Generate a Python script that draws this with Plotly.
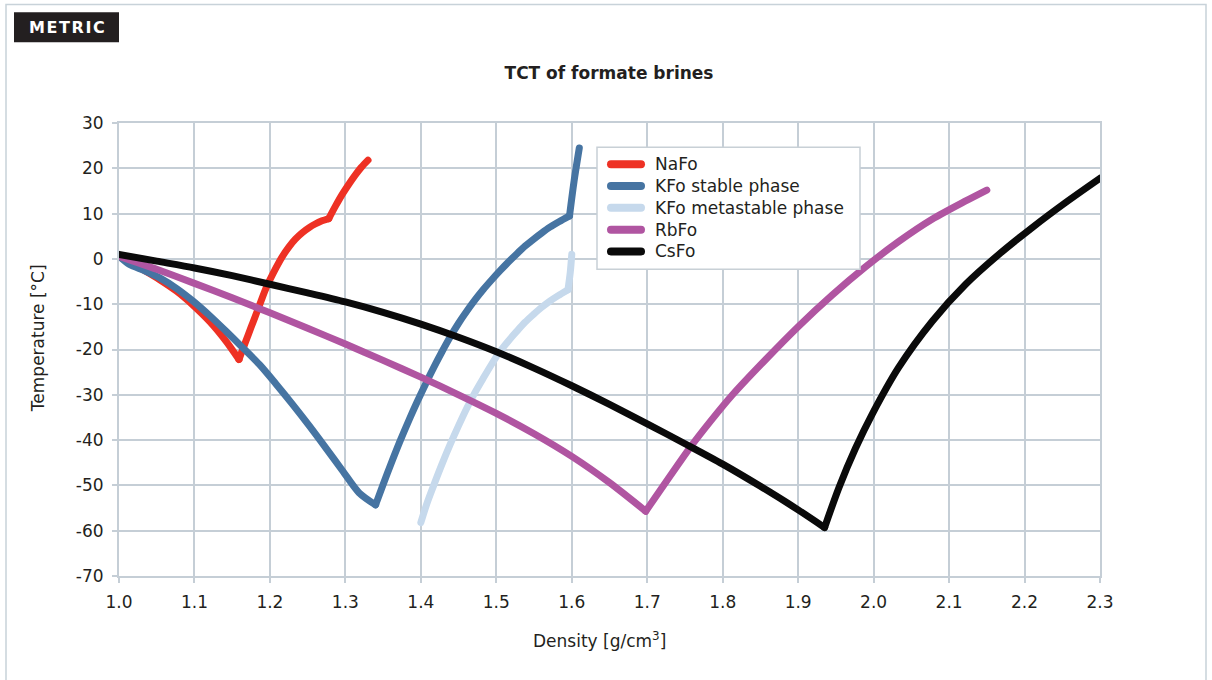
import plotly.graph_objects as go

# ---- data ----
nafo_x = [1.0, 1.016, 1.032, 1.054, 1.076, 1.098, 1.12, 1.142, 1.159,
          1.163, 1.168, 1.175, 1.181, 1.188, 1.195, 1.208, 1.216, 1.225, 1.234, 1.243, 1.252, 1.260, 1.269, 1.278,
          1.287, 1.296, 1.305, 1.313, 1.321, 1.330]
nafo_y = [0.6, -0.9, -2.4, -4.6, -7.1, -10.2, -13.8, -18.2, -22.2,
          -20.4, -18.2, -15.1, -12.5, -9.4, -6.4, -2.0, 0.4, 2.6, 4.4, 5.8, 6.9, 7.7, 8.4, 8.9,
          11.7, 14.3, 16.6, 18.5, 20.2, 21.8]
nafo_kinks = [8, 23]

kfo_s_x = [1.0, 1.014, 1.034, 1.054, 1.076, 1.098, 1.12, 1.142, 1.164, 1.186, 1.208, 1.23, 1.252, 1.274, 1.296, 1.318, 1.340,
           1.350, 1.361, 1.372, 1.385, 1.395, 1.406, 1.417, 1.428, 1.439, 1.45, 1.461, 1.472, 1.483, 1.494, 1.505, 1.516,
           1.527, 1.538, 1.549, 1.560, 1.571, 1.583, 1.597, 1.603, 1.610]
kfo_s_y = [0.6, -1.25, -2.6, -4.2, -6.5, -9.3, -12.5, -16.0, -19.6, -23.3, -27.6, -32.1, -36.8, -41.7, -46.7, -51.6, -54.3,
           -49.8, -45.0, -40.4, -35.3, -31.6, -27.7, -24.0, -20.5, -17.2, -14.2, -11.5, -9.0, -6.7, -4.6, -2.6, -0.7,
           1.1, 2.8, 4.3, 5.7, 7.0, 8.2, 9.5, 17.1, 24.5]
kfo_s_kinks = [16, 39]

kfo_m_x = [1.400, 1.408, 1.417, 1.428, 1.439, 1.45, 1.461, 1.472, 1.483, 1.494, 1.505, 1.516, 1.527, 1.538, 1.549, 1.560,
           1.571, 1.582, 1.595, 1.598, 1.600]
kfo_m_y = [-58.2, -54.0, -50.0, -45.3, -40.9, -36.8, -32.9, -29.4, -26.25, -23.2, -20.4, -18.1, -16.0, -14.0, -12.3, -10.7,
           -9.3, -8.1, -6.8, -3.0, 1.0]
kfo_m_kinks = [18]

rbfo_x = [1.0, 1.05, 1.1, 1.15, 1.2, 1.25, 1.3, 1.35, 1.4, 1.45, 1.5, 1.55, 1.6, 1.65, 1.698,
          1.725, 1.757, 1.785, 1.813, 1.857, 1.901, 1.945, 1.989, 2.033, 2.078, 2.122, 2.150]
rbfo_y = [0.6, -2.3, -5.4, -8.6, -11.9, -15.3, -18.8, -22.4, -26.1, -30.0, -34.1, -38.6, -43.6, -49.4, -55.7,
          -49.2, -41.6, -35.6, -30.0, -22.2, -14.8, -8.0, -1.8, 3.8, 8.8, 12.8, 15.2]
rbfo_kinks = [14]

csfo_x = [1.0, 1.05, 1.1, 1.15, 1.2, 1.25, 1.3, 1.35, 1.4, 1.45, 1.5, 1.55, 1.6, 1.65, 1.7, 1.75, 1.8, 1.85, 1.9, 1.935,
          1.954, 1.976, 1.998, 2.033, 2.078, 2.122, 2.166, 2.21, 2.254, 2.300]
csfo_y = [1.0, -0.5, -2.0, -3.7, -5.6, -7.5, -9.5, -11.8, -14.4, -17.3, -20.5, -24.1, -28.0, -32.1, -36.4, -40.8, -45.3,
          -50.2, -55.4, -59.3,
          -50.5, -41.8, -34.3, -24.0, -13.7, -5.6, 1.0, 6.9, 12.4, 17.8]
csfo_kinks = [19]

series_names = ["NaFo", "KFo stable phase", "KFo metastable phase", "RbFo", "CsFo"]
series_colors = ["#ee3124", "#4674a2", "#c6d9ec", "#b055a1", "#0a0a0a"]
series_data = [(nafo_x, nafo_y, nafo_kinks), (kfo_s_x, kfo_s_y, kfo_s_kinks),
               (kfo_m_x, kfo_m_y, kfo_m_kinks), (rbfo_x, rbfo_y, rbfo_kinks),
               (csfo_x, csfo_y, csfo_kinks)]

x_ticks = [1.0, 1.1, 1.2, 1.3, 1.4, 1.5, 1.6, 1.7, 1.8, 1.9, 2.0, 2.1, 2.2, 2.3]
y_ticks = [30, 20, 10, 0, -10, -20, -30, -40, -50, -60, -70]

FONT = "DejaVu Sans"
TXT = "#231f20"
GRID = "#c5ced6"
FS = 17

fig = go.Figure()
for name, col, (xs, ys, kinks) in zip(series_names, series_colors, series_data):
    bounds = [0] + kinks + [len(xs) - 1]
    for a, b in zip(bounds[:-1], bounds[1:]):
        fig.add_trace(go.Scatter(x=xs[a:b + 1], y=ys[a:b + 1], mode="lines", name=name,
                                 legendgroup=name, showlegend=False, hoverinfo="skip",
                                 line=dict(color=col, width=7, shape="spline", smoothing=0.8)))

# plot area: x 119..1100, y 122.7..576 (pixels)
L, R, T, B = 119, 1100, 122.7, 576
W, H = R - L, B - T

def px(xp):
    return (xp - L) / W

def py(yp):
    return (B - yp) / H

fig.update_layout(
    width=1212, height=680,
    margin=dict(l=L, r=1212 - R, t=T, b=680 - B, autoexpand=False),
    paper_bgcolor="white", plot_bgcolor="white",
    font=dict(family=FONT, size=FS, color=TXT),
    title=dict(text="<b>TCT of formate brines</b>", x=px(609), xref="paper",
               xanchor="center", y=1 - 73 / 680, yanchor="middle",
               font=dict(family=FONT, size=17, color=TXT)),
    showlegend=False,
    xaxis=dict(range=[1.0, 2.3], tickvals=x_ticks,
               ticktext=[f"{v:.1f}" for v in x_ticks],
               showgrid=True, gridcolor=GRID, gridwidth=1.5,
               showline=True, linecolor=GRID, linewidth=2, mirror=True,
               ticks="outside", ticklen=5, tickcolor=GRID, tickwidth=1.5,
               ticklabelstandoff=5,
               zeroline=False, tickfont=dict(size=FS, color=TXT)),
    yaxis=dict(range=[-70, 30], tickvals=y_ticks,
               ticktext=[str(v) for v in y_ticks],
               showgrid=True, gridcolor=GRID, gridwidth=1.5,
               showline=True, linecolor=GRID, linewidth=2, mirror=True,
               ticks="outside", ticklen=5, tickcolor=GRID, tickwidth=1.5,
               ticklabelstandoff=5,
               zeroline=False, tickfont=dict(size=FS, color=TXT)),
)

# legend (box, swatches, labels)
fig.add_shape(type="rect", xref="paper", yref="paper",
              x0=px(597), x1=px(860), y0=py(269), y1=py(147),
              line=dict(color="#c8d0d6", width=1.5), fillcolor="white")
for i, (name, col) in enumerate(zip(series_names, series_colors)):
    yrow = 164 + i * 21.8
    fig.add_shape(type="line", xref="paper", yref="paper",
                  x0=px(611), x1=px(641), y0=py(yrow), y1=py(yrow),
                  line=dict(color=col, width=8))
    fig.add_annotation(text=name, xref="paper", yref="paper",
                       x=px(653), y=py(yrow), xanchor="left", yanchor="middle",
                       showarrow=False, font=dict(family=FONT, size=FS, color=TXT))

# axis titles
fig.add_annotation(text="Temperature [°C]", textangle=-90, xref="paper", yref="paper",
                   x=px(38), y=py(338), xanchor="center", yanchor="middle",
                   showarrow=False, font=dict(family=FONT, size=FS, color=TXT))
fig.add_annotation(text="Density [g/cm<sup>3</sup>]", xref="paper", yref="paper",
                   x=px(599), y=py(640), xanchor="center", yanchor="middle",
                   showarrow=False, font=dict(family=FONT, size=FS, color=TXT))

# outer frame
fig.add_shape(type="rect", xref="paper", yref="paper",
              x0=px(6), x1=px(1206), y0=py(700), y1=py(4),
              line=dict(color="#c8d2d9", width=1.5), fillcolor="rgba(0,0,0,0)", layer="below")

# METRIC badge
fig.add_shape(type="rect", xref="paper", yref="paper",
              x0=px(14), x1=px(119), y0=py(42), y1=py(12),
              line=dict(width=0), fillcolor="#231f20")
fig.add_annotation(text="<b>M\u200aE\u200aT\u200aR\u200aI\u200aC</b>", xref="paper", yref="paper",
                   x=px(66.5), y=py(27), xanchor="center", yanchor="middle",
                   showarrow=False, font=dict(family=FONT, size=16, color="white"))

post = """
document.body.style.margin='0px';
var gd = document.getElementById('{plot_id}');
function roundify(){
  document.querySelectorAll('.scatterlayer path.js-line').forEach(function(p){
    p.style.strokeLinejoin='round'; p.style.strokeLinecap='round';});
  document.querySelectorAll('.shapelayer path').forEach(function(p){
    p.style.strokeLinecap='round';});
}
roundify();
if (gd && gd.on) { gd.on('plotly_afterplot', roundify); }
"""
fig.write_html("out.html", post_script=post, config={"displayModeBar": False})
